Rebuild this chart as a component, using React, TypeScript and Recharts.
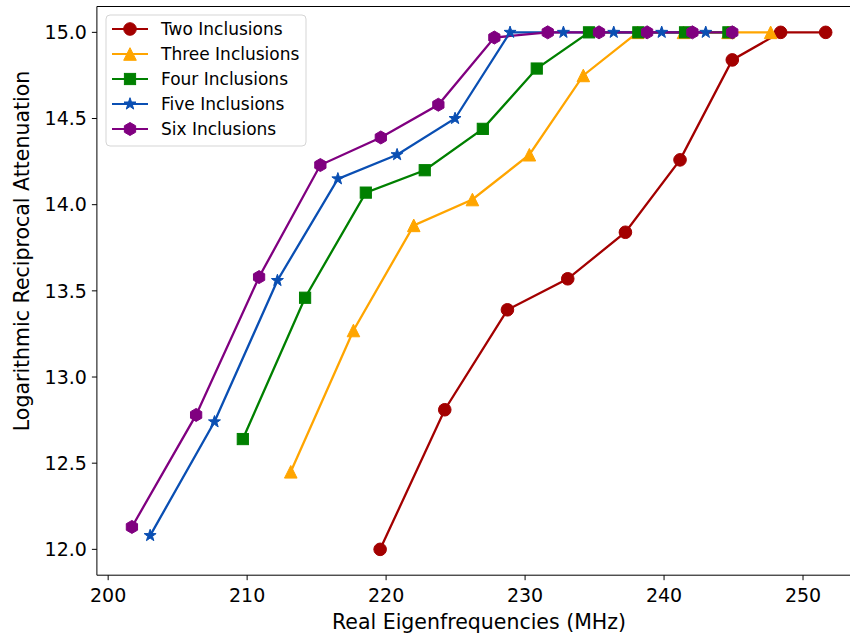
import { LineChart, Line, XAxis, YAxis, ReferenceLine } from "recharts"

// frequencies (MHz) and log reciprocal attenuation per inclusion count
const twoFreq = [219.57, 224.22, 228.73, 233.07, 237.22, 241.15, 244.91, 248.39, 251.63]
const twoAtt = [12.0, 12.81, 13.39, 13.57, 13.84, 14.26, 14.84, 15.0, 15.0]
const threeFreq = [213.14, 217.65, 221.99, 226.21, 230.31, 234.19, 238.1, 241.4, 244.6, 247.67]
const threeAtt = [12.45, 13.27, 13.88, 14.03, 14.29, 14.75, 15.0, 15.0, 15.0, 15.0]
const fourFreq = [209.69, 214.17, 218.54, 222.78, 226.96, 230.84, 234.6, 238.15, 241.51, 244.63]
const fourAtt = [12.64, 13.46, 14.07, 14.2, 14.44, 14.79, 15.0, 15.0, 15.0, 15.0]
const fiveFreq = [203.02, 207.65, 212.18, 216.53, 220.79, 224.96, 228.92, 232.76, 236.38, 239.83, 243.0]
const fiveAtt = [12.08, 12.74, 13.56, 14.15, 14.29, 14.5, 15.0, 15.0, 15.0, 15.0, 15.0]
const sixFreq = [201.71, 206.33, 210.86, 215.27, 219.62, 223.76, 227.79, 231.63, 235.32, 238.78, 242.04, 244.91]
const sixAtt = [12.13, 12.78, 13.58, 14.23, 14.39, 14.58, 14.97, 15.0, 15.0, 15.0, 15.0, 15.0]

const xTicks = [200, 210, 220, 230, 240, 250]
const yTicks = [12.0, 12.5, 13.0, 13.5, 14.0, 14.5, 15.0]

const FONT = "DejaVu Sans"
const X_DOMAIN = [199.19, 254.15]
const Y_DOMAIN = [11.85, 15.15]

const toPoints = (xs: number[], ys: number[]) => xs.map((x, i) => ({ x, y: ys[i] }))

const series = [
  { name: "Two Inclusions", color: "#a30000", shape: "circle", data: toPoints(twoFreq, twoAtt) },
  { name: "Three Inclusions", color: "#ffa500", shape: "triangle", data: toPoints(threeFreq, threeAtt) },
  { name: "Four Inclusions", color: "#008000", shape: "square", data: toPoints(fourFreq, fourAtt) },
  { name: "Five Inclusions", color: "#0a4fb3", shape: "star", data: toPoints(fiveFreq, fiveAtt) },
  { name: "Six Inclusions", color: "#800080", shape: "hexagon", data: toPoints(sixFreq, sixAtt) },
]

function polyPoints(cx: number, cy: number, n: number, rOuter: number, rInner?: number) {
  const pts: string[] = []
  const count = rInner ? n * 2 : n
  for (let i = 0; i < count; i++) {
    const a = -Math.PI / 2 + (i * 2 * Math.PI) / count
    const r = rInner && i % 2 === 1 ? rInner : rOuter
    pts.push(`${cx + r * Math.cos(a)},${cy + r * Math.sin(a)}`)
  }
  return pts.join(" ")
}

function Marker({ shape, cx, cy, color }: { shape: string; cx: number; cy: number; color: string }) {
  if (cx == null || cy == null) return null
  switch (shape) {
    case "circle":
      return <circle cx={cx} cy={cy} r={6.3} fill={color} stroke={color} />
    case "triangle":
      return <polygon points={`${cx},${cy - 6.3} ${cx - 6.3},${cy + 6.3} ${cx + 6.3},${cy + 6.3}`} fill={color} stroke={color} />
    case "square":
      return <rect x={cx - 5.6} y={cy - 5.6} width={11.2} height={11.2} fill={color} stroke={color} />
    case "star":
      return <polygon points={polyPoints(cx, cy, 5, 6.3, 2.5)} fill={color} stroke={color} />
    default:
      return <polygon points={polyPoints(cx, cy, 6, 6.5)} fill={color} stroke={color} />
  }
}

function LegendBox() {
  return (
    <svg
      width={202}
      height={133}
      style={{ position: "absolute", left: 105, top: 14, fontFamily: FONT }}
    >
      <rect x={1} y={1} width={200} height={131} rx={4} fill="rgba(255,255,255,0.8)" stroke="#d5d5d5" strokeWidth={1} />
      {series.map((s, i) => {
        const cy = 15 + i * 25
        return (
          <g key={s.name}>
            <line x1={7} x2={43} y1={cy} y2={cy} stroke={s.color} strokeWidth={2.2} />
            <Marker shape={s.shape} cx={25} cy={cy} color={s.color} />
            <text x={56} y={cy + 6} fontSize={17} fill="#000">
              {s.name}
            </text>
          </g>
        )
      })}
    </svg>
  )
}

export default function App() {
  return (
    <div style={{ position: "absolute", left: 0, top: 0, width: 850, height: 639, overflow: "hidden", background: "#fff" }}>
      <LineChart width={880} height={639} margin={{ top: 6.5, right: 19.3, left: 0, bottom: 13.8 }}>
        <XAxis
          type="number"
          dataKey="x"
          domain={X_DOMAIN}
          ticks={xTicks}
          allowDataOverflow
          height={50}
          stroke="#000"
          tickSize={5}
          tickMargin={8}
          tick={{ fill: "#000", fontSize: 19, fontFamily: FONT }}
          label={{
            content: () => (
              <text x={479} y={629} textAnchor="middle" fontSize={20.5} fontFamily={FONT} fill="#000">
                Real Eigenfrequencies (MHz)
              </text>
            ),
          }}
        />
        <YAxis
          type="number"
          dataKey="y"
          domain={Y_DOMAIN}
          ticks={yTicks}
          allowDataOverflow
          width={96.9}
          stroke="#000"
          tickSize={5}
          tickMargin={5}
          tickFormatter={(v: number) => v.toFixed(1)}
          tick={{ fill: "#000", fontSize: 19, fontFamily: FONT }}
          label={{
            content: () => (
              <text
                x={29}
                y={251}
                transform="rotate(-90 29 251)"
                textAnchor="middle"
                fontSize={20.5}
                fontFamily={FONT}
                fill="#000"
              >
                Logarithmic Reciprocal Attenuation
              </text>
            ),
          }}
        />
        <ReferenceLine y={15.15} stroke="#000" strokeWidth={1} ifOverflow="visible" />
        {series.map((s) => (
          <Line
            key={s.name}
            data={s.data}
            dataKey="y"
            name={s.name}
            type="linear"
            stroke={s.color}
            strokeWidth={2.3}
            isAnimationActive={false}
            activeDot={false}
            dot={(p: any) => <Marker key={`${s.name}-${p.index}`} shape={s.shape} cx={p.cx} cy={p.cy} color={s.color} />}
          />
        ))}
      </LineChart>
      <LegendBox />
    </div>
  )
}
